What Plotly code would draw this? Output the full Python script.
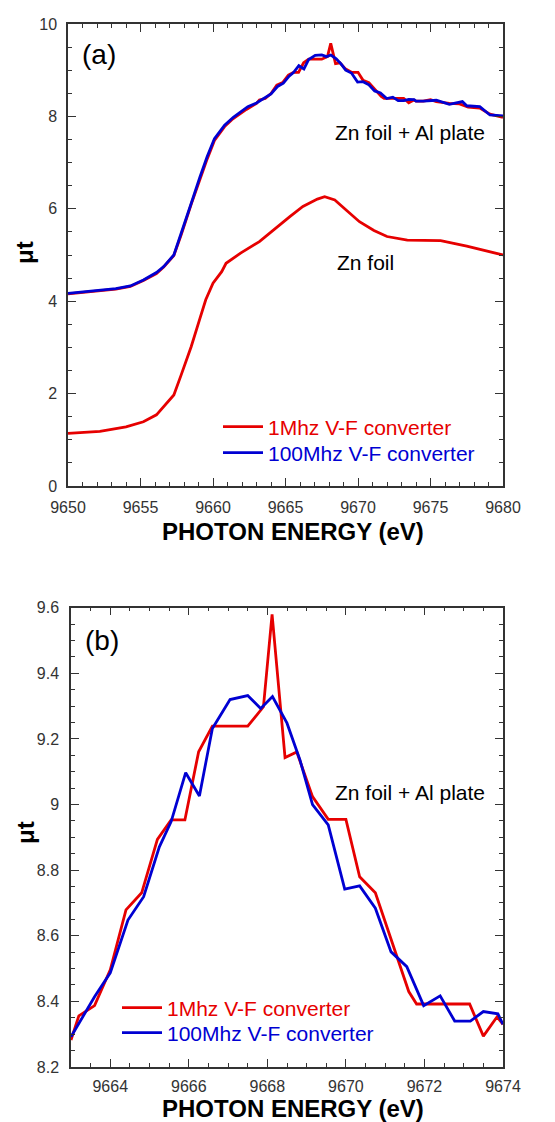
import plotly.graph_objects as go

# ---------------- data: panel (b) (zoom on Zn foil + Al plate peak) ----------------
b_red_e = [9663.0, 9663.2, 9663.6, 9664.0, 9664.4, 9664.8, 9665.2, 9665.55, 9665.9, 9666.25,
           9666.6, 9667.5, 9667.9, 9668.12, 9668.45, 9668.75, 9669.15, 9669.55, 9670.0, 9670.35,
           9670.75, 9671.15, 9671.6, 9671.8, 9673.15, 9673.5, 9673.85, 9674.0]
b_red_v = [8.282, 8.356, 8.387, 8.496, 8.679, 8.731, 8.894, 8.953, 8.953, 9.161,
           9.239, 9.239, 9.298, 9.58, 9.143, 9.16, 9.024, 8.955, 8.955, 8.78,
           8.731, 8.587, 8.43, 8.392, 8.392, 8.294, 8.353, 8.33]
b_blue_e = [9663.0, 9663.6, 9664.0, 9664.45, 9664.85, 9665.25, 9665.55, 9665.92, 9666.27, 9666.6,
            9667.05, 9667.5, 9667.83, 9668.13, 9668.5, 9668.83, 9669.15, 9669.55, 9669.97, 9670.35,
            9670.75, 9671.15, 9671.55, 9671.98, 9672.4, 9672.77, 9673.17, 9673.5, 9673.87, 9674.0]
b_blue_v = [8.292, 8.414, 8.487, 8.648, 8.719, 8.871, 8.948, 9.097, 9.026, 9.232,
            9.32, 9.332, 9.293, 9.329, 9.248, 9.136, 9.0, 8.938, 8.742, 8.752,
            8.684, 8.551, 8.506, 8.387, 8.417, 8.34, 8.34, 8.369, 8.362, 8.33]

# ---------------- data: panel (a) outside the zoomed window ----------------
a_pre_e_blue = [9650.0, 9651.0, 9652.2, 9653.3, 9654.3, 9655.2, 9656.1, 9656.6, 9657.3, 9657.8,
                9658.5, 9659.1, 9659.6, 9660.1, 9660.8, 9661.4, 9662.4]
a_pre_v_blue = [4.17, 4.20, 4.23, 4.27, 4.33, 4.46, 4.62, 4.75, 5.00, 5.45,
                6.12, 6.69, 7.13, 7.52, 7.81, 7.98, 8.21]
a_pre_e_red = [9650.0, 9651.0, 9652.2, 9653.3, 9654.3, 9655.2, 9656.1, 9656.6, 9657.3, 9657.8,
               9658.5, 9659.1, 9659.6, 9660.1, 9660.8, 9661.3, 9662.3]
a_pre_v_red = [4.16, 4.19, 4.23, 4.26, 4.32, 4.45, 4.60, 4.74, 4.99, 5.43,
               6.10, 6.66, 7.08, 7.48, 7.78, 7.93, 8.15]
a_post_e_blue = [9674.5, 9675.4, 9676.3, 9677.2, 9677.5, 9678.4, 9679.1, 9680.0]
a_post_v_blue = [8.33, 8.35, 8.26, 8.32, 8.23, 8.21, 8.03, 8.01]
a_post_e_red = [9674.5, 9675.0, 9675.4, 9676.3, 9677.0, 9677.6, 9678.4, 9679.1, 9680.0]
a_post_v_red = [8.33, 8.36, 8.32, 8.28, 8.27, 8.20, 8.18, 8.05, 7.98]

zn_e = [9650.0, 9652.2, 9654.0, 9655.2, 9656.1, 9656.7, 9657.3, 9657.8, 9658.5, 9659.1,
        9659.5, 9660.0, 9660.6, 9660.9, 9661.9, 9663.2, 9664.4, 9665.3, 9666.2, 9667.2,
        9667.7, 9668.4, 9669.2, 9670.1, 9671.1, 9672.0, 9673.4, 9675.7, 9677.5, 9678.9, 9680.0]
zn_v = [1.14, 1.18, 1.28, 1.39, 1.54, 1.75, 1.97, 2.40, 3.02, 3.63,
        4.03, 4.39, 4.64, 4.82, 5.04, 5.29, 5.61, 5.83, 6.05, 6.21,
        6.26, 6.19, 5.97, 5.72, 5.53, 5.40, 5.32, 5.31, 5.19, 5.09, 5.00]

series_names = ["1Mhz V-F converter", "100Mhz V-F converter"]
RED = "#e60000"
BLUE = "#0000d2"
FONT = "Liberation Sans, Arial, sans-serif"

a_red_e = a_pre_e_red + b_red_e + a_post_e_red
a_red_v = a_pre_v_red + b_red_v + a_post_v_red
a_blue_e = a_pre_e_blue + b_blue_e + a_post_e_blue
a_blue_v = a_pre_v_blue + b_blue_v + a_post_v_blue

fig = go.Figure()
lw = 2.8
# panel (a)
fig.add_trace(go.Scatter(x=zn_e, y=zn_v, mode="lines", line=dict(color=RED, width=lw),
                         showlegend=False, xaxis="x", yaxis="y"))
fig.add_trace(go.Scatter(x=a_red_e, y=a_red_v, mode="lines", line=dict(color=RED, width=lw),
                         name=f"<span style='color:{RED}'>{series_names[0]}</span>",
                         legend="legend", xaxis="x", yaxis="y"))
fig.add_trace(go.Scatter(x=a_blue_e, y=a_blue_v, mode="lines", line=dict(color=BLUE, width=lw),
                         name=f"<span style='color:{BLUE}'>{series_names[1]}</span>",
                         legend="legend2", xaxis="x", yaxis="y"))
# panel (b)
fig.add_trace(go.Scatter(x=b_red_e, y=b_red_v, mode="lines", line=dict(color=RED, width=lw),
                         name=f"<span style='color:{RED}'>{series_names[0]}</span>",
                         legend="legend3", xaxis="x2", yaxis="y2"))
fig.add_trace(go.Scatter(x=b_blue_e, y=b_blue_v, mode="lines", line=dict(color=BLUE, width=lw),
                         name=f"<span style='color:{BLUE}'>{series_names[1]}</span>",
                         legend="legend4", xaxis="x2", yaxis="y2"))

# the page body adds an 8 px margin, so the figure is 8 px smaller and shifted
OFF = 8
W, H = 555 - OFF, 1122 - OFF
def px(x):
    return (x - OFF) / W
def py(y):
    return 1 - (y - OFF) / H

axis_common = dict(showgrid=False, zeroline=False, showline=True, linecolor="#333",
                   linewidth=1.5, ticks="inside", mirror="allticks", tickcolor="#333",
                   ticklen=8, tickwidth=1.3, automargin=False,
                   tickfont=dict(family=FONT, size=16, color="#333"))

def leg(x, y):
    return dict(x=px(x), y=py(y), xanchor="left", yanchor="middle",
                bgcolor="rgba(0,0,0,0)", font=dict(family=FONT, size=21),
                tracegroupgap=0, itemwidth=40)

fig.update_layout(
    template="none",
    width=W, height=H, margin=dict(l=0, r=0, t=0, b=0, autoexpand=False),
    paper_bgcolor="white", plot_bgcolor="white",
    xaxis=dict(domain=[px(68), px(503)], range=[9650, 9680], dtick=5, tick0=9650,
               minor=dict(dtick=1, ticks="inside", ticklen=4, tickcolor="#333", tickwidth=1.2),
               anchor="y", ticklabelstandoff=6, **axis_common),
    yaxis=dict(domain=[py(486), py(24)], range=[0, 10], dtick=2, tick0=0,
               minor=dict(dtick=0.5, ticks="inside", ticklen=4, tickcolor="#333", tickwidth=1.2),
               anchor="x", ticklabelstandoff=6, **axis_common),
    xaxis2=dict(domain=[px(71), px(503)], range=[9663, 9674], dtick=2, tick0=9664,
                minor=dict(dtick=0.5, ticks="inside", ticklen=4, tickcolor="#333", tickwidth=1.2),
                anchor="y2", ticklabelstandoff=4, **axis_common),
    yaxis2=dict(domain=[py(1067), py(607.7)], range=[8.2, 9.6], dtick=0.2, tick0=8.2,
                minor=dict(dtick=0.05, ticks="inside", ticklen=4, tickcolor="#333", tickwidth=1.2),
                anchor="x2", ticklabelstandoff=7, **axis_common),
    legend=leg(218, 427),
    legend2=leg(218, 453),
    legend3=leg(117, 1008),
    legend4=leg(117, 1033),
)

ann = []
def text(x, y, t, size, bold=False, angle=0, xanchor="center"):
    ann.append(dict(x=px(x), y=py(y), xref="paper", yref="paper", showarrow=False,
                    text=(f"<b>{t}</b>" if bold else t), textangle=angle, xanchor=xanchor,
                    yanchor="middle", font=dict(family=FONT, size=size, color="black")))

text(80, 55, "(a)", 28, xanchor="left")
text(83, 640, "(b)", 28, xanchor="left")
text(333, 132, "Zn foil + Al plate", 21, xanchor="left")
text(335, 262, "Zn foil", 21, xanchor="left")
text(333, 792, "Zn foil + Al plate", 21, xanchor="left")
text(293, 531, "PHOTON ENERGY (eV)", 24, bold=True)
text(293, 1108, "PHOTON ENERGY (eV)", 24, bold=True)
text(25, 253, "μt", 24, bold=True, angle=-90)
text(25, 833, "μt", 24, bold=True, angle=-90)
fig.update_layout(annotations=ann)

fig.write_html("out.html")
